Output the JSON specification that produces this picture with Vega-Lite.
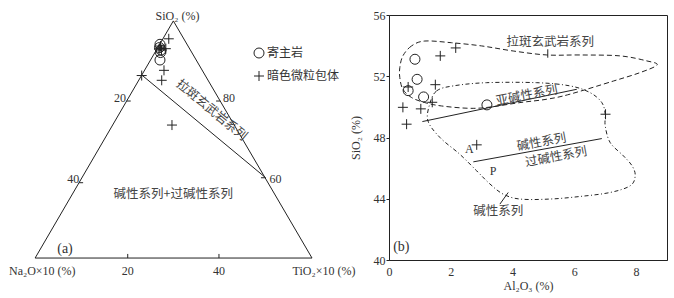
{
  "$schema": "https://vega.github.io/schema/vega-lite/v6.json",
  "padding": {"top": 8, "left": 0, "right": 0, "bottom": 0},
  "background": "white",
  "bounds": "flush",
  "spacing": 56,
  "config": {
    "font": "Liberation Serif",
    "view": {"stroke": "#222", "strokeWidth": 1},
    "axis": {"domainColor": "#222", "tickColor": "#222", "labelColor": "#333", "titleColor": "#333", "labelFont": "Liberation Serif", "titleFont": "Liberation Serif", "labelFontSize": 12, "titleFontSize": 12, "titleFontWeight": "normal", "grid": false}
  },
  "resolve": {"scale": {"shape": "independent", "x": "independent", "y": "independent"}, "legend": {"shape": "independent"}},
  "datasets": {
    "tern_pts": [
      {"rock": "寄主岩", "x": 27.07, "y": 46.96},
      {"rock": "寄主岩", "x": 26.96, "y": 46.25},
      {"rock": "寄主岩", "x": 27.29, "y": 45.70},
      {"rock": "寄主岩", "x": 27.18, "y": 45.15},
      {"rock": "寄主岩", "x": 27.07, "y": 43.51},
      {"rock": "暗色微粒包体", "x": 29.0, "y": 48.17},
      {"rock": "暗色微粒包体", "x": 28.35, "y": 46.0},
      {"rock": "暗色微粒包体", "x": 27.95, "y": 41.24},
      {"rock": "暗色微粒包体", "x": 27.45, "y": 39.05},
      {"rock": "暗色微粒包体", "x": 23.06, "y": 40.1},
      {"rock": "暗色微粒包体", "x": 29.7, "y": 29.22},
      {"rock": "暗色微粒包体", "x": 27.07, "y": 46.14},
      {"rock": "暗色微粒包体", "x": 27.40, "y": 45.70},
      {"rock": "暗色微粒包体", "x": 26.85, "y": 45.92},
      {"rock": "暗色微粒包体", "x": 27.18, "y": 46.58}
    ],
    "tern_lines": [
      {"x": -0.3, "y": 0, "x2": 60.4, "y2": 0},
      {"x": 60.4, "y": 0, "x2": 30, "y2": 52.1},
      {"x": 30, "y": 52.1, "x2": -0.3, "y2": 0},
      {"x": 23.09, "y": 40.21, "x2": 50.25, "y2": 17.64},
      {"x": 20, "y": 0, "x2": 20, "y2": 0.9},
      {"x": 40, "y": 0, "x2": 40, "y2": 0.9},
      {"x": 19.76, "y": 34.5, "x2": 20.66, "y2": 34.5},
      {"x": 9.32, "y": 16.55, "x2": 10.22, "y2": 16.55},
      {"x": 40.27, "y": 34.5, "x2": 39.37, "y2": 34.5},
      {"x": 50.11, "y": 17.64, "x2": 49.21, "y2": 17.64}
    ],
    "tern_labels": [
      {"label": "SiO₂ (%)", "x": 30.9, "y": 53.2},
      {"label": "Na₂O×10 (%)", "x": 1.27, "y": -2.86},
      {"label": "20", "x": 20, "y": -2.86},
      {"label": "40", "x": 40, "y": -2.86},
      {"label": "TiO₂×10 (%)", "x": 63.03, "y": -2.86},
      {"label": "20", "x": 18.3, "y": 35.2},
      {"label": "40", "x": 8.07, "y": 17.29},
      {"label": "80", "x": 42.2, "y": 35.2},
      {"label": "60", "x": 52.4, "y": 17.29}
    ],
    "b_pts": [
      {"rock": "寄主岩", "Al2O3": 0.84, "SiO2": 53.11},
      {"rock": "寄主岩", "Al2O3": 0.91, "SiO2": 51.8},
      {"rock": "寄主岩", "Al2O3": 0.62, "SiO2": 51.06},
      {"rock": "寄主岩", "Al2O3": 1.12, "SiO2": 50.65},
      {"rock": "寄主岩", "Al2O3": 3.17, "SiO2": 50.13},
      {"rock": "暗色微粒包体", "Al2O3": 2.16, "SiO2": 53.85},
      {"rock": "暗色微粒包体", "Al2O3": 1.66, "SiO2": 53.33},
      {"rock": "暗色微粒包体", "Al2O3": 1.5, "SiO2": 51.45},
      {"rock": "暗色微粒包体", "Al2O3": 0.62, "SiO2": 51.3},
      {"rock": "暗色微粒包体", "Al2O3": 1.4, "SiO2": 50.3},
      {"rock": "暗色微粒包体", "Al2O3": 0.45, "SiO2": 49.97},
      {"rock": "暗色微粒包体", "Al2O3": 1.03, "SiO2": 49.87},
      {"rock": "暗色微粒包体", "Al2O3": 0.57, "SiO2": 48.87},
      {"rock": "暗色微粒包体", "Al2O3": 2.84, "SiO2": 47.52},
      {"rock": "暗色微粒包体", "Al2O3": 7.01, "SiO2": 49.52}
    ],
    "b_tholeiite": [
      {"o": 1, "Al2O3": 1.16, "SiO2": 54.30},
      {"o": 2, "Al2O3": 0.73, "SiO2": 53.98},
      {"o": 3, "Al2O3": 0.45, "SiO2": 53.33},
      {"o": 4, "Al2O3": 0.35, "SiO2": 52.56},
      {"o": 5, "Al2O3": 0.35, "SiO2": 51.91},
      {"o": 6, "Al2O3": 0.45, "SiO2": 51.15},
      {"o": 7, "Al2O3": 0.73, "SiO2": 50.61},
      {"o": 8, "Al2O3": 1.16, "SiO2": 50.28},
      {"o": 9, "Al2O3": 1.70, "SiO2": 50.06},
      {"o": 10, "Al2O3": 2.56, "SiO2": 49.91},
      {"o": 11, "Al2O3": 3.20, "SiO2": 49.97},
      {"o": 12, "Al2O3": 4.24, "SiO2": 50.28},
      {"o": 13, "Al2O3": 5.11, "SiO2": 50.50},
      {"o": 14, "Al2O3": 5.86, "SiO2": 50.83},
      {"o": 15, "Al2O3": 7.27, "SiO2": 51.69},
      {"o": 16, "Al2O3": 8.13, "SiO2": 52.24},
      {"o": 17, "Al2O3": 8.68, "SiO2": 52.74},
      {"o": 18, "Al2O3": 8.35, "SiO2": 53.0},
      {"o": 19, "Al2O3": 7.48, "SiO2": 53.33},
      {"o": 20, "Al2O3": 6.19, "SiO2": 53.39},
      {"o": 21, "Al2O3": 5.11, "SiO2": 53.39},
      {"o": 22, "Al2O3": 4.02, "SiO2": 53.65},
      {"o": 23, "Al2O3": 3.00, "SiO2": 53.98},
      {"o": 24, "Al2O3": 2.02, "SiO2": 54.19}
    ],
    "b_alkaline": [
      {"o": 1, "Al2O3": 1.32, "SiO2": 50.19},
      {"o": 2, "Al2O3": 1.54, "SiO2": 51.04},
      {"o": 3, "Al2O3": 2.08, "SiO2": 51.37},
      {"o": 4, "Al2O3": 3.16, "SiO2": 51.58},
      {"o": 5, "Al2O3": 4.78, "SiO2": 51.58},
      {"o": 6, "Al2O3": 5.86, "SiO2": 51.37},
      {"o": 7, "Al2O3": 6.51, "SiO2": 50.93},
      {"o": 8, "Al2O3": 6.89, "SiO2": 50.28},
      {"o": 9, "Al2O3": 7.00, "SiO2": 49.52},
      {"o": 10, "Al2O3": 7.00, "SiO2": 48.76},
      {"o": 11, "Al2O3": 7.16, "SiO2": 47.67},
      {"o": 12, "Al2O3": 7.59, "SiO2": 46.80},
      {"o": 13, "Al2O3": 7.87, "SiO2": 46.15},
      {"o": 14, "Al2O3": 7.97, "SiO2": 45.50},
      {"o": 15, "Al2O3": 7.81, "SiO2": 44.85},
      {"o": 16, "Al2O3": 7.16, "SiO2": 44.41},
      {"o": 17, "Al2O3": 6.19, "SiO2": 44.15},
      {"o": 18, "Al2O3": 5.21, "SiO2": 43.98},
      {"o": 19, "Al2O3": 4.24, "SiO2": 43.98},
      {"o": 20, "Al2O3": 3.70, "SiO2": 44.30},
      {"o": 21, "Al2O3": 3.27, "SiO2": 44.96},
      {"o": 22, "Al2O3": 2.84, "SiO2": 45.82},
      {"o": 23, "Al2O3": 2.29, "SiO2": 46.91},
      {"o": 24, "Al2O3": 1.65, "SiO2": 48.00},
      {"o": 25, "Al2O3": 1.26, "SiO2": 49.09}
    ],
    "b_lines": [
      {"Al2O3": 1.08, "SiO2": 49.04, "Al2O3_2": 6.08, "SiO2_2": 51.15},
      {"Al2O3": 2.73, "SiO2": 46.41, "Al2O3_2": 6.89, "SiO2_2": 47.93},
      {"Al2O3": 5.14, "SiO2": 53.21, "Al2O3_2": 5.14, "SiO2_2": 53.76},
      {"Al2O3": 3.86, "SiO2": 44.41, "Al2O3_2": 3.59, "SiO2_2": 43.65}
    ]
  },
  "hconcat": [
    {
      "width": 333,
      "height": 284,
      "view": {"stroke": null},
      "encoding": {
        "x": {"field": "x", "type": "quantitative", "axis": null, "scale": {"domain": [-8, 65], "nice": false, "zero": false}},
        "y": {"field": "y", "type": "quantitative", "axis": null, "scale": {"domain": [-9, 53.4], "nice": false, "zero": false}}
      },
      "layer": [
        {
          "data": {"name": "tern_lines"},
          "mark": {"type": "rule", "color": "#222", "strokeWidth": 1},
          "encoding": {"x2": {"field": "x2"}, "y2": {"field": "y2"}}
        },
        {
          "data": {"name": "tern_pts"},
          "mark": {"type": "point", "filled": false, "stroke": "#222", "strokeWidth": 1, "size": 100, "opacity": 1},
          "encoding": {
            "shape": {
              "field": "rock", "type": "nominal",
              "scale": {"domain": ["寄主岩", "暗色微粒包体"], "range": ["circle", "M-1,0H1M0,-1V1"]},
              "legend": {"orient": "none", "legendX": 253, "legendY": 32, "title": null, "padding": 0, "labelFont": "Noto Sans CJK SC", "labelFontSize": 12, "labelColor": "#333", "symbolSize": 100, "symbolStrokeColor": "#222", "symbolStrokeWidth": 1, "symbolFillColor": "transparent", "rowPadding": 9, "labelOffset": 2}
            }
          }
        },
        {
          "data": {"name": "tern_labels"},
          "mark": {"type": "text", "font": "Liberation Serif", "fontSize": 12, "color": "#333", "align": "center", "baseline": "middle"},
          "encoding": {"text": {"field": "label"}}
        },
        {
          "data": {"values": [{"label": "(a)", "x": 6.25, "y": 1.91}]},
          "mark": {"type": "text", "font": "Liberation Serif", "fontSize": 14, "color": "#333", "align": "center", "baseline": "middle"},
          "encoding": {"text": {"field": "label"}}
        },
        {
          "data": {"values": [{"label": "碱性系列+过碱性系列", "x": 30.0, "y": 14.0}]},
          "mark": {"type": "text", "font": "Noto Sans CJK SC", "fontSize": 12.5, "color": "#444", "align": "center", "baseline": "middle"},
          "encoding": {"text": {"field": "label"}}
        },
        {
          "data": {"values": [{"label": "拉斑玄武岩系列", "x": 38.4, "y": 32.5}]},
          "mark": {"type": "text", "font": "Noto Sans CJK SC", "fontSize": 12.5, "color": "#444", "align": "center", "baseline": "middle", "angle": 39.6},
          "encoding": {"text": {"field": "label"}}
        }
      ]
    },
    {
      "width": 278,
      "height": 245,
      "encoding": {
        "x": {"field": "Al2O3", "type": "quantitative", "title": "Al₂O₃ (%)", "scale": {"domain": [0, 9], "nice": false, "zero": false},
              "axis": {"values": [0, 2, 4, 6, 8], "ticks": false, "labelPadding": 6, "labelFlush": false, "titlePadding": 3}},
        "y": {"field": "SiO2", "type": "quantitative", "title": "SiO₂ (%)", "scale": {"domain": [40, 56], "nice": false, "zero": false},
              "axis": {"values": [40, 44, 48, 52, 56], "tickSize": 3, "labelPadding": 1, "titlePadding": 11}}
      },
      "layer": [
        {
          "data": {"name": "b_tholeiite"},
          "mark": {"type": "line", "interpolate": "cardinal-closed", "color": "#222", "strokeWidth": 1, "strokeDash": [5, 3]},
          "encoding": {"order": {"field": "o", "type": "quantitative"}}
        },
        {
          "data": {"name": "b_alkaline"},
          "mark": {"type": "line", "interpolate": "cardinal-closed", "color": "#222", "strokeWidth": 1, "strokeDash": [4, 2.5, 1, 2.5]},
          "encoding": {"order": {"field": "o", "type": "quantitative"}}
        },
        {
          "data": {"name": "b_lines"},
          "mark": {"type": "rule", "color": "#222", "strokeWidth": 1},
          "encoding": {"x2": {"field": "Al2O3_2"}, "y2": {"field": "SiO2_2"}}
        },
        {
          "data": {"name": "b_pts"},
          "mark": {"type": "point", "filled": false, "stroke": "#222", "strokeWidth": 1, "size": 100, "opacity": 1},
          "encoding": {
            "shape": {"field": "rock", "type": "nominal", "legend": null,
                      "scale": {"domain": ["寄主岩", "暗色微粒包体"], "range": ["circle", "M-1,0H1M0,-1V1"]}}
          }
        },
        {
          "data": {"values": [{"label": "拉斑玄武岩系列", "Al2O3": 5.22, "SiO2": 54.26}, {"label": "碱性系列", "Al2O3": 3.54, "SiO2": 43.21}]},
          "mark": {"type": "text", "font": "Noto Sans CJK SC", "fontSize": 12.5, "color": "#444", "align": "center", "baseline": "middle"},
          "encoding": {"text": {"field": "label"}}
        },
        {
          "data": {"values": [{"label": "亚碱性系列", "Al2O3": 4.46, "SiO2": 50.76}]},
          "mark": {"type": "text", "font": "Noto Sans CJK SC", "fontSize": 12.5, "color": "#444", "align": "center", "baseline": "middle", "angle": -11},
          "encoding": {"text": {"field": "label"}}
        },
        {
          "data": {"values": [{"label": "碱性系列", "Al2O3": 4.94, "SiO2": 47.7}, {"label": "过碱性系列", "Al2O3": 5.41, "SiO2": 46.74}]},
          "mark": {"type": "text", "font": "Noto Sans CJK SC", "fontSize": 12.5, "color": "#444", "align": "center", "baseline": "middle", "angle": -10.5},
          "encoding": {"text": {"field": "label"}}
        },
        {
          "data": {"values": [{"label": "A", "Al2O3": 2.6, "SiO2": 47.24}, {"label": "P", "Al2O3": 3.37, "SiO2": 45.82}]},
          "mark": {"type": "text", "font": "Liberation Serif", "fontSize": 12, "color": "#333", "align": "center", "baseline": "middle"},
          "encoding": {"text": {"field": "label"}}
        },
        {
          "data": {"values": [{"label": "(b)", "Al2O3": 0.4, "SiO2": 40.82}]},
          "mark": {"type": "text", "font": "Liberation Serif", "fontSize": 14, "color": "#333", "align": "center", "baseline": "middle"},
          "encoding": {"text": {"field": "label"}}
        }
      ]
    }
  ]
}
